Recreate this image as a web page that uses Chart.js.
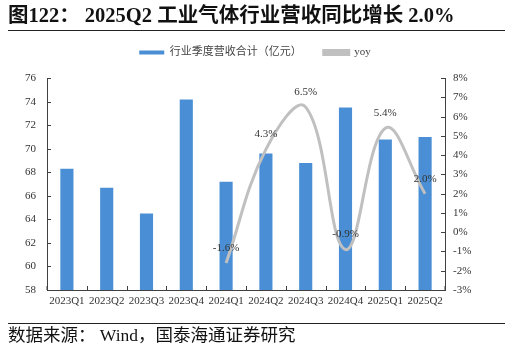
<!DOCTYPE html>
<html>
<head>
<meta charset="utf-8">
<script src="https://cdn.jsdelivr.net/npm/chart.js@4.4.1/dist/chart.umd.min.js"></script>
<style>
  html, body { margin: 0; padding: 0; background: #fff; }
  #wrap { position: relative; width: 510px; height: 350px; overflow: hidden; }
  #title { position: absolute; left: 8px; top: 3px; font-family: 'Liberation Serif', 'Noto Sans CJK SC', serif; font-weight: bold; font-size: 20.5px; color: #111; white-space: pre; line-height: 24px; }
  #tline { position: absolute; left: 8px; top: 30px; width: 497px; height: 0; border-top: 1px solid #222; }
  #bline { position: absolute; left: 8px; top: 323px; width: 497px; height: 0; border-top: 1px solid #222; }
  #foot { position: absolute; left: 8px; top: 324px; font-family: 'Liberation Serif', 'Noto Sans CJK SC', serif; font-size: 17.5px; color: #111; white-space: pre; line-height: 22px; }
  canvas { position: absolute; left: 0; top: 0; }
</style>
</head>
<body>
<div id="wrap">
  <canvas id="c" width="510" height="350"></canvas>
  <div id="title">图122： 2025Q2 工业气体行业营收同比增长 2.0%</div>
  <div id="tline"></div>
  <div id="bline"></div>
  <div id="foot">数据来源： Wind，国泰海通证券研究</div>
</div>
<script>
const categories = ['2023Q1','2023Q2','2023Q3','2023Q4','2024Q1','2024Q2','2024Q3','2024Q4','2025Q1','2025Q2'];
const revenue = [68.3, 66.7, 64.5, 74.2, 67.2, 69.6, 68.8, 73.5, 70.8, 71.0];
const yoy = [null, null, null, null, -1.6, 4.3, 6.5, -0.9, 5.4, 2.0];
const revenueLabel = '行业季度营收合计（亿元）';
const yoyLabel = 'yoy';
const leftTicks = { min: 58, max: 76, step: 2 };
const rightTicks = { min: -3, max: 8, step: 1 };

const FONT = "'Liberation Serif', 'Noto Sans CJK SC', serif";
const AXIS_COLOR = '#404040';

const inwardTicks = {
  id: 'inwardTicks',
  afterDatasetsDraw(chart) {
    const ctx = chart.ctx;
    const a = chart.chartArea;
    ctx.save();
    ctx.strokeStyle = AXIS_COLOR;
    ctx.lineWidth = 1;
    const yl = chart.scales.y;
    yl.ticks.forEach((t) => {
      const y = Math.round(yl.getPixelForValue(t.value)) + 0.5;
      ctx.beginPath(); ctx.moveTo(a.left, y); ctx.lineTo(a.left + 4, y); ctx.stroke();
    });
    const yr = chart.scales.y1;
    yr.ticks.forEach((t) => {
      const y = Math.round(yr.getPixelForValue(t.value)) + 0.5;
      ctx.beginPath(); ctx.moveTo(a.right, y); ctx.lineTo(a.right - 4, y); ctx.stroke();
    });
    const xs = chart.scales.x;
    const n = categories.length;
    for (let i = 0; i <= n; i++) {
      const x = i === 0 ? xs.left : (i === n ? xs.right :
        Math.round((xs.getPixelForTick(i - 1) + xs.getPixelForTick(i)) / 2) + 0.5);
      ctx.beginPath(); ctx.moveTo(x, a.bottom); ctx.lineTo(x, a.bottom - 4); ctx.stroke();
    }
    ctx.restore();
  }
};

const pointLabels = {
  id: 'pointLabels',
  afterDatasetsDraw(chart) {
    const ctx = chart.ctx;
    const meta = chart.getDatasetMeta(1);
    ctx.save();
    ctx.font = '11px ' + FONT;
    ctx.fillStyle = '#333';
    ctx.textAlign = 'center';
    ctx.textBaseline = 'middle';
    meta.data.forEach((pt, i) => {
      const v = yoy[i];
      if (v === null) return;
      ctx.fillText(v.toFixed(1) + '%', pt.x, pt.y - 15);
    });
    ctx.restore();
  }
};

new Chart(document.getElementById('c'), {
  data: {
    labels: categories,
    datasets: [
      {
        type: 'bar',
        label: revenueLabel,
        data: revenue,
        backgroundColor: '#4a8fd5',
        borderWidth: 0,
        barPercentage: 0.33,
        categoryPercentage: 1,
        yAxisID: 'y',
        order: 2
      },
      {
        type: 'line',
        label: yoyLabel,
        data: yoy,
        borderColor: '#c0c0c0',
        backgroundColor: '#c0c0c0',
        borderWidth: 3,
        pointRadius: 0,
        tension: 0.4,
        yAxisID: 'y1',
        order: 1
      }
    ]
  },
  options: {
    responsive: false,
    animation: false,
    devicePixelRatio: 1,
    layout: { padding: { top: 25, bottom: 38, left: 0, right: 0 } },
    plugins: {
      legend: {
        display: true,
        position: 'top',
        labels: {
          boxWidth: 25,
          boxHeight: 4,
          padding: 22,
          color: '#444',
          font: { family: FONT, size: 11 },
          sort: (a, b) => a.datasetIndex - b.datasetIndex
        }
      },
      subtitle: {
        display: true,
        text: ' ',
        weight: 500,
        position: 'top',
        font: { size: 1 },
        padding: { top: 0, bottom: 9 }
      },
      tooltip: { enabled: false }
    },
    scales: {
      x: {
        grid: { display: false, drawTicks: false },
        border: { display: true, color: AXIS_COLOR },
        ticks: { color: '#333', font: { family: FONT, size: 11 }, padding: 5, maxRotation: 0, autoSkip: false },
        afterFit(s) { s.height = 22; }
      },
      y: {
        position: 'left',
        min: leftTicks.min, max: leftTicks.max,
        grid: { display: false, drawTicks: false },
        border: { display: true, color: AXIS_COLOR },
        ticks: { stepSize: leftTicks.step, color: '#333', font: { family: FONT, size: 11 }, padding: 11 },
        afterFit(s) { s.width = 47; }
      },
      y1: {
        position: 'right',
        min: rightTicks.min, max: rightTicks.max,
        grid: { display: false, drawTicks: false },
        border: { display: true, color: AXIS_COLOR },
        ticks: { stepSize: rightTicks.step, color: '#333', font: { family: FONT, size: 11 }, padding: 8,
          callback: (v) => v + '%' },
        afterFit(s) { s.width = 65; }
      }
    }
  },
  plugins: [inwardTicks, pointLabels]
});
</script>
</body>
</html>
